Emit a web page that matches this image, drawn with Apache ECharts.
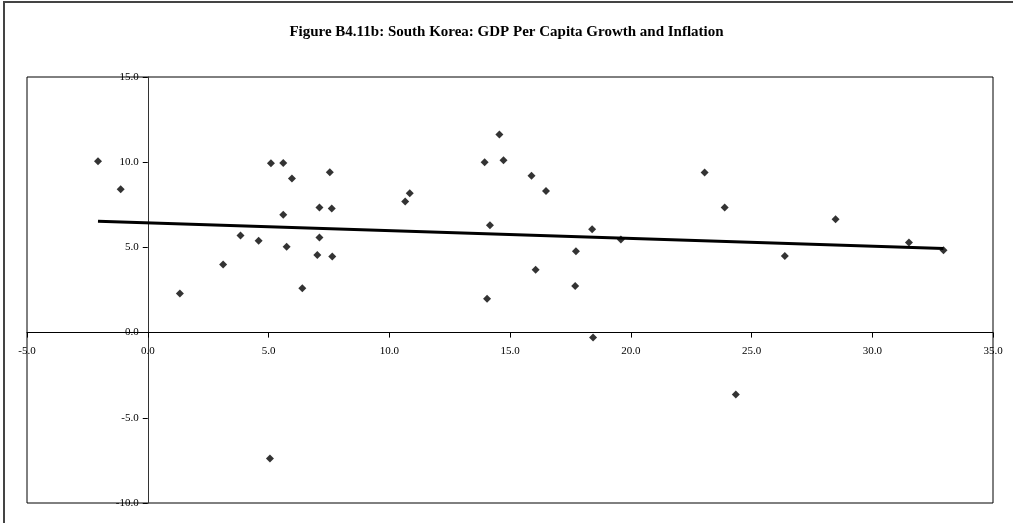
<!DOCTYPE html>
<html>
<head>
<meta charset="utf-8">
<script src="https://cdn.jsdelivr.net/npm/echarts@6/dist/echarts.min.js"></script>
<style>
html,body{margin:0;padding:0;background:#fff;}
#chart{width:1013px;height:523px;}
</style>
</head>
<body>
<div id="chart"></div>
<script>
// GDP per capita growth (x, %) and inflation (y, %)
const inflation = [-2.06, -1.12, 1.33, 3.12, 3.84, 4.59, 5.10, 5.61, 5.61, 5.97, 5.75, 6.40, 7.11, 7.11, 7.02, 7.54, 7.62, 7.64, 10.66, 10.85, 13.95, 14.56, 14.73, 14.17, 14.05, 15.89, 16.49, 16.06, 17.73, 17.70, 18.40, 18.44, 19.59, 23.06, 23.89, 26.38, 28.48, 31.52, 32.95, 5.06, 24.35];
const growth    = [10.05, 8.41, 2.30, 4.00, 5.70, 5.39, 9.94, 9.95, 6.91, 9.04, 5.04, 2.61, 7.34, 5.58, 4.55, 9.41, 7.28, 4.47, 7.69, 8.18, 9.99, 11.63, 10.11, 6.30, 1.99, 9.21, 8.31, 3.69, 4.78, 2.73, 6.07, -0.29, 5.46, 9.39, 7.34, 4.49, 6.65, 5.29, 4.84, -7.39, -3.63];
const trendX = [-2.06, 32.95];
const trendY = [6.54, 4.93];
const xTicks = { min: -5, max: 35, interval: 5 };
const yTicks = { min: -10, max: 15, interval: 5 };
const titleText = 'Figure B4.11b: South Korea: GDP Per Capita Growth and Inflation';

const points = inflation.map((x, i) => [x, growth[i]]);
const trend = trendX.map((x, i) => [x, trendY[i]]);

const G = { left: 27, top: 77, width: 966, height: 426 };
// place each axis where the other axis has value 0
const xAxisOffset = -G.height * (0 - yTicks.min) / (yTicks.max - yTicks.min);
const yAxisOffset = -G.width * (0 - xTicks.min) / (xTicks.max - xTicks.min);

const serif = '"Liberation Serif", "Times New Roman", serif';
const chart = echarts.init(document.getElementById('chart'), null, { renderer: 'canvas' });
chart.setOption({
  backgroundColor: '#fff',
  animation: false,
  title: {
    text: titleText,
    left: 'center',
    top: 20,
    textStyle: { fontFamily: serif, fontSize: 15, fontWeight: 'bold', color: '#000' }
  },
  graphic: [{
    type: 'rect',
    shape: { x: 4, y: 2, width: 1030, height: 540 },
    style: { fill: null, stroke: '#444', lineWidth: 2 },
    silent: true
  }],
  grid: { left: G.left, top: G.top, width: G.width, height: G.height, show: true, borderColor: '#000', borderWidth: 1, backgroundColor: '#fff', outerBoundsMode: 'none', containLabel: false },
  xAxis: {
    type: 'value',
    position: 'bottom',
    offset: xAxisOffset,
    min: xTicks.min, max: xTicks.max, interval: xTicks.interval,
    axisLine: { onZero: false, lineStyle: { color: '#000', width: 1 } },
    axisTick: { show: true, inside: false, length: 5, lineStyle: { color: '#000' } },
    axisLabel: { margin: 13, fontFamily: serif, fontSize: 11, color: '#000', formatter: v => v.toFixed(1), showMinLabel: true, showMaxLabel: true, hideOverlap: false },
    splitLine: { show: false }
  },
  yAxis: {
    type: 'value',
    position: 'left',
    offset: yAxisOffset,
    min: yTicks.min, max: yTicks.max, interval: yTicks.interval,
    axisLine: { onZero: false, lineStyle: { color: '#333', width: 1 } },
    axisTick: { show: true, inside: false, length: 5, lineStyle: { color: '#000' } },
    axisLabel: { margin: 9, fontFamily: serif, fontSize: 11, color: '#000', formatter: v => v.toFixed(1), showMinLabel: true, showMaxLabel: true, hideOverlap: false },
    splitLine: { show: false }
  },
  series: [
    {
      type: 'line',
      data: trend,
      symbol: 'none',
      lineStyle: { color: '#000', width: 3 },
      z: 2
    },
    {
      type: 'scatter',
      data: points,
      symbol: 'diamond',
      symbolSize: 8,
      itemStyle: { color: '#000' },
      z: 3
    }
  ]
});
</script>
</body>
</html>
